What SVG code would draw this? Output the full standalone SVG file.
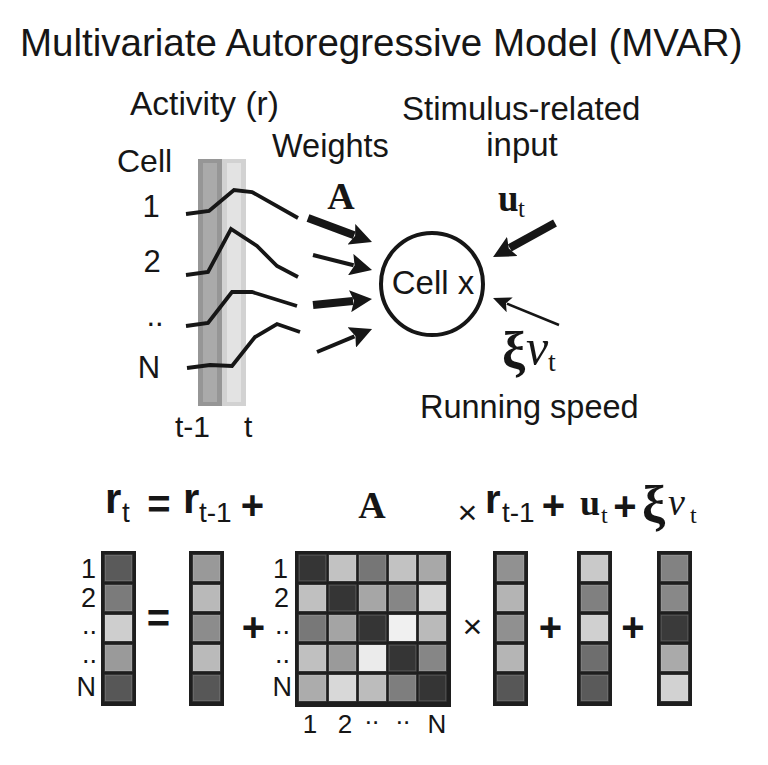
<svg xmlns="http://www.w3.org/2000/svg" width="768" height="765" viewBox="0 0 768 765">
<defs>
<style>
.sans{font-family:"Liberation Sans",Arial,sans-serif;fill:#161616}
.serif{font-family:"Liberation Serif","Times New Roman",serif;fill:#161616}
.b{font-weight:bold}
.it{font-style:italic}
.mid{text-anchor:middle}
.end{text-anchor:end}
.trace{fill:none;stroke:#161616;stroke-width:3.8;stroke-linejoin:miter}
.arr{stroke:#161616;fill:none}
.frame{fill:#1e1e1e}
.cell{stroke:#ffffff;stroke-opacity:0.18;stroke-width:1.2}
</style>
<marker id="ah" viewBox="0 0 22 22" refX="3" refY="11" markerWidth="22" markerHeight="22" markerUnits="userSpaceOnUse" orient="auto"><path d="M0,0 L22,11 L0,22 L4,11 z" fill="#161616"/></marker>
<marker id="ahs" viewBox="0 0 18 16" refX="3" refY="8" markerWidth="18" markerHeight="16" markerUnits="userSpaceOnUse" orient="auto"><path d="M0,0 L18,8 L0,16 L4,8 z" fill="#161616"/></marker>
</defs>
<rect width="768" height="765" fill="#ffffff"/>

<g id="title"><text class="sans" x="20" y="56" font-size="38.5">Multivariate Autoregressive Model (MVAR)</text></g>

<g id="labels-top">
<text class="sans" x="130" y="115" font-size="33.5">Activity (r)</text>
<text class="sans" x="117" y="172" font-size="32">Cell</text>
<text class="sans mid" x="151" y="217" font-size="31">1</text>
<text class="sans mid" x="152" y="272" font-size="31">2</text>
<text class="sans mid" x="155" y="326" font-size="31">..</text>
<text class="sans mid" x="149" y="378" font-size="31">N</text>
<text class="sans" x="272" y="157" font-size="32.5">Weights</text>
<text class="sans" x="402" y="120" font-size="33">Stimulus-related</text>
<text class="sans mid" x="522" y="156" font-size="33">input</text>
<text class="sans" x="175" y="437" font-size="30">t-1</text>
<text class="sans" x="244" y="437" font-size="30">t</text>
<text class="serif b mid" x="341" y="209" font-size="38">A</text>
<text class="sans" x="420" y="418" font-size="32.5">Running speed</text>
<text class="serif b" x="498" y="211" font-size="37">u</text>
<text class="serif" x="518" y="217" font-size="25">t</text>
<text class="serif b" x="502" y="368" font-size="52">ξ</text>
<text class="serif it" x="526" y="364" font-size="50">v</text>
<text class="serif" x="548" y="371" font-size="28">t</text>
</g>

<g id="time-bands">
<rect x="198" y="159" width="24" height="247" fill="#969696"/>
<rect x="203" y="163" width="14" height="239" fill="#aaaaaa"/>
<rect x="222" y="159" width="24" height="247" fill="#d2d2d2"/>
<rect x="227" y="163" width="14" height="239" fill="#e3e3e3"/>
</g>

<g id="traces">
<polyline class="trace" points="186,214 209,211 234,190 252,192 298,218"/>
<polyline class="trace" points="186,275 208,272 231,229 257,246 277,266 298,277"/>
<polyline class="trace" points="186,326 208,323 232,292 252,292 297,306"/>
<polyline class="trace" points="187,368 210,365 232,366 255,337 277,324 300,332"/>
</g>

<g id="cell-x">
<circle cx="432" cy="284" r="51" fill="none" stroke="#161616" stroke-width="4"/>
<text class="sans mid" x="433" y="294" font-size="33">Cell x</text>
</g>

<g id="connectors">
<line class="arr" x1="308" y1="218" x2="354.2" y2="235.3" stroke-width="8" marker-end="url(#ah)"/>
<line class="arr" x1="313" y1="255" x2="353.6" y2="265.3" stroke-width="4" marker-end="url(#ah)"/>
<line class="arr" x1="313" y1="305" x2="353.1" y2="300.9" stroke-width="8" marker-end="url(#ah)"/>
<line class="arr" x1="317" y1="352" x2="354.5" y2="336.3" stroke-width="4" marker-end="url(#ah)"/>
<line class="arr" x1="555" y1="223" x2="509.7" y2="247.9" stroke-width="8" marker-end="url(#ah)"/>
<line class="arr" x1="559" y1="325" x2="506.9" y2="303.7" stroke-width="2.5" marker-end="url(#ahs)"/>
</g>

<g id="equation">
<text class="sans b" x="105" y="513" font-size="42">r</text>
<text class="sans" x="122" y="522" font-size="28">t</text>
<text class="sans b mid" x="159" y="518" font-size="40">=</text>
<text class="sans b" x="183" y="513" font-size="42">r</text>
<text class="sans" x="199" y="522" font-size="28">t-1</text>
<text class="sans b mid" x="252.5" y="519" font-size="40">+</text>
<text class="serif b mid" x="372" y="518" font-size="38">A</text>
<text class="sans mid" x="467.5" y="523.5" font-size="34">×</text>
<text class="sans b" x="485" y="513" font-size="40">r</text>
<text class="sans" x="502" y="522" font-size="28">t-1</text>
<text class="sans b mid" x="553.5" y="519" font-size="40">+</text>
<text class="serif b" x="580" y="515" font-size="36">u</text>
<text class="serif" x="601" y="523" font-size="24">t</text>
<text class="sans b mid" x="625" y="520" font-size="40">+</text>
<text class="serif b" x="642" y="522" font-size="52">ξ</text>
<text class="serif it" x="668" y="515" font-size="38">v</text>
<text class="serif" x="690" y="523" font-size="24">t</text>
</g>

<g id="vector-rt">
<rect class="frame" x="101" y="551" width="35" height="155"/>
<rect class="cell" x="105" y="555" width="27" height="26" fill="#5a5a5a"/>
<rect class="cell" x="105" y="585" width="27" height="26" fill="#7b7b7b"/>
<rect class="cell" x="105" y="615" width="27" height="26" fill="#cecece"/>
<rect class="cell" x="105" y="645" width="27" height="26" fill="#9a9a9a"/>
<rect class="cell" x="105" y="675" width="27" height="26" fill="#575757"/>
<text class="sans end" x="96" y="578" font-size="27">1</text>
<text class="sans end" x="96" y="607" font-size="27">2</text>
<text class="sans end" x="97" y="634" font-size="27">..</text>
<text class="sans end" x="97" y="663" font-size="27">..</text>
<text class="sans end" x="96" y="696" font-size="27">N</text>
</g>

<g id="op-eq"><text class="sans b mid" x="158.5" y="632" font-size="40">=</text></g>

<g id="vector-rt1">
<rect class="frame" x="189" y="551" width="35" height="155"/>
<rect class="cell" x="193" y="555" width="27" height="26" fill="#999999"/>
<rect class="cell" x="193" y="585" width="27" height="26" fill="#b9b9b9"/>
<rect class="cell" x="193" y="615" width="27" height="26" fill="#8c8c8c"/>
<rect class="cell" x="193" y="645" width="27" height="26" fill="#bababa"/>
<rect class="cell" x="193" y="675" width="27" height="26" fill="#575757"/>
</g>

<g id="op-plus1"><text class="sans b mid" x="253.5" y="641" font-size="40">+</text></g>

<g id="matrix-A">
<rect class="frame" x="295" y="551" width="156" height="156"/>
<g>
<rect class="cell" x="299" y="555" width="27" height="26" fill="#353535"/>
<rect class="cell" x="329" y="555" width="27" height="26" fill="#c2c2c2"/>
<rect class="cell" x="359" y="555" width="27" height="26" fill="#767676"/>
<rect class="cell" x="389" y="555" width="27" height="26" fill="#c2c2c2"/>
<rect class="cell" x="419" y="555" width="27" height="26" fill="#a8a8a8"/>

<rect class="cell" x="299" y="585" width="27" height="26" fill="#c0c0c0"/>
<rect class="cell" x="329" y="585" width="27" height="26" fill="#353535"/>
<rect class="cell" x="359" y="585" width="27" height="26" fill="#a6a6a6"/>
<rect class="cell" x="389" y="585" width="27" height="26" fill="#868686"/>
<rect class="cell" x="419" y="585" width="27" height="26" fill="#d6d6d6"/>

<rect class="cell" x="299" y="615" width="27" height="26" fill="#787878"/>
<rect class="cell" x="329" y="615" width="27" height="26" fill="#a4a4a4"/>
<rect class="cell" x="359" y="615" width="27" height="26" fill="#353535"/>
<rect class="cell" x="389" y="615" width="27" height="26" fill="#f0f0f0"/>
<rect class="cell" x="419" y="615" width="27" height="26" fill="#bababa"/>

<rect class="cell" x="299" y="645" width="27" height="26" fill="#c0c0c0"/>
<rect class="cell" x="329" y="645" width="27" height="26" fill="#9a9a9a"/>
<rect class="cell" x="359" y="645" width="27" height="26" fill="#ebebeb"/>
<rect class="cell" x="389" y="645" width="27" height="26" fill="#353535"/>
<rect class="cell" x="419" y="645" width="27" height="26" fill="#868686"/>

<rect class="cell" x="299" y="675" width="27" height="26" fill="#acacac"/>
<rect class="cell" x="329" y="675" width="27" height="26" fill="#d8d8d8"/>
<rect class="cell" x="359" y="675" width="27" height="26" fill="#bcbcbc"/>
<rect class="cell" x="389" y="675" width="27" height="26" fill="#7e7e7e"/>
<rect class="cell" x="419" y="675" width="27" height="26" fill="#353535"/>
</g>
<text class="sans end" x="288" y="578" font-size="27">1</text>
<text class="sans end" x="289" y="607" font-size="27">2</text>
<text class="sans end" x="290" y="634" font-size="27">..</text>
<text class="sans end" x="290" y="663" font-size="27">..</text>
<text class="sans end" x="292" y="696" font-size="27">N</text>
<text class="sans mid" x="310" y="733" font-size="26">1</text>
<text class="sans mid" x="345" y="733" font-size="26">2</text>
<text class="sans mid" x="372" y="724" font-size="26">..</text>
<text class="sans mid" x="403" y="724" font-size="26">..</text>
<text class="sans mid" x="437" y="733" font-size="26">N</text>
</g>

<g id="op-times"><text class="sans mid" x="472.5" y="637.5" font-size="34">×</text></g>

<g id="vector-rt1b">
<rect class="frame" x="493" y="551" width="35" height="155"/>
<rect class="cell" x="497" y="555" width="27" height="26" fill="#919191"/>
<rect class="cell" x="497" y="585" width="27" height="26" fill="#b4b4b4"/>
<rect class="cell" x="497" y="615" width="27" height="26" fill="#909090"/>
<rect class="cell" x="497" y="645" width="27" height="26" fill="#b5b5b5"/>
<rect class="cell" x="497" y="675" width="27" height="26" fill="#575757"/>
</g>

<g id="op-plus2"><text class="sans b mid" x="550.5" y="641" font-size="40">+</text></g>

<g id="vector-ut">
<rect class="frame" x="577" y="551" width="35" height="155"/>
<rect class="cell" x="581" y="555" width="27" height="26" fill="#c9c9c9"/>
<rect class="cell" x="581" y="585" width="27" height="26" fill="#808080"/>
<rect class="cell" x="581" y="615" width="27" height="26" fill="#d0d0d0"/>
<rect class="cell" x="581" y="645" width="27" height="26" fill="#6e6e6e"/>
<rect class="cell" x="581" y="675" width="27" height="26" fill="#5a5a5a"/>
</g>

<g id="op-plus3"><text class="sans b mid" x="633" y="641" font-size="40">+</text></g>

<g id="vector-xi">
<rect class="frame" x="657" y="551" width="35" height="155"/>
<rect class="cell" x="661" y="555" width="27" height="26" fill="#828282"/>
<rect class="cell" x="661" y="585" width="27" height="26" fill="#888888"/>
<rect class="cell" x="661" y="615" width="27" height="26" fill="#3a3a3a"/>
<rect class="cell" x="661" y="645" width="27" height="26" fill="#aaaaaa"/>
<rect class="cell" x="661" y="675" width="27" height="26" fill="#d2d2d2"/>
</g>
</svg>
